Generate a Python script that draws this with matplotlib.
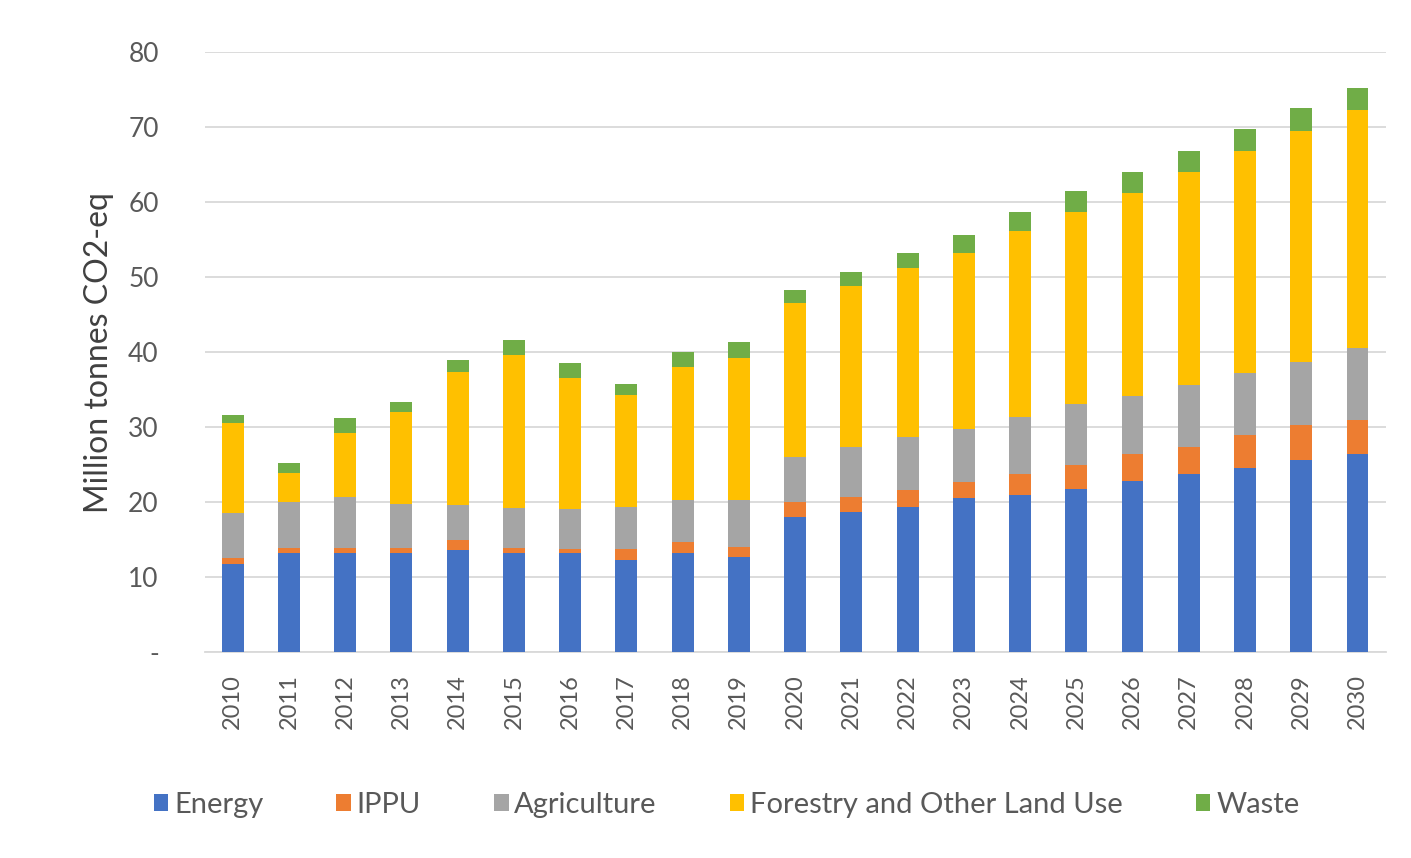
import numpy as np
import matplotlib.pyplot as plt

plt.rcParams['font.family'] = ['Lato', 'DejaVu Sans']

years = [str(y) for y in range(2010, 2031)]

energy = [11.7, 13.2, 13.2, 13.2, 13.6, 13.2, 13.2, 12.3, 13.2, 12.7,
          18.0, 18.7, 19.4, 20.5, 21.0, 21.8, 22.8, 23.8, 24.6, 25.6, 26.4]
ippu = [0.8, 0.7, 0.7, 0.7, 1.3, 0.7, 0.6, 1.5, 1.5, 1.3,
        2.0, 2.0, 2.2, 2.2, 2.8, 3.1, 3.6, 3.6, 4.4, 4.7, 4.6]
agriculture = [6.0, 6.1, 6.8, 5.9, 4.7, 5.3, 5.3, 5.6, 5.6, 6.3,
               6.0, 6.7, 7.1, 7.1, 7.5, 8.2, 7.7, 8.2, 8.2, 8.4, 9.5]
folu = [12.0, 3.9, 8.5, 12.2, 17.8, 20.4, 17.4, 14.9, 17.7, 18.9,
        20.5, 21.4, 22.5, 23.5, 24.9, 25.6, 27.2, 28.5, 29.7, 30.8, 31.8]
waste = [1.1, 1.3, 2.0, 1.4, 1.5, 2.0, 2.0, 1.5, 2.0, 2.1,
         1.8, 1.9, 2.0, 2.3, 2.5, 2.8, 2.8, 2.8, 2.9, 3.1, 3.0]

series = [
    ("Energy", energy, "#4472C4"),
    ("IPPU", ippu, "#ED7D31"),
    ("Agriculture", agriculture, "#A5A5A5"),
    ("Forestry and Other Land Use", folu, "#FFC000"),
    ("Waste", waste, "#70AD47"),
]

fig = plt.figure(figsize=(14.11, 8.58), dpi=100)
ax = fig.add_axes([0.145, 0.240, 0.837, 0.699])

x = np.arange(len(years))
bottom = np.zeros(len(years))
for name, vals, color in series:
    ax.bar(x, vals, width=0.39, bottom=bottom, color=color, label=name, zorder=3)
    bottom += np.array(vals)

ax.set_xlim(-0.5, len(years) - 0.5)
ax.set_ylim(0, 80)
ax.set_yticks(range(0, 81, 10))
ax.set_yticklabels(["-"] + [str(v) for v in range(10, 81, 10)])
ax.yaxis.grid(True, color="#d9d9d9", linewidth=1.3, zorder=0)
ax.set_xticks(x)
ax.set_xticklabels(years, rotation=90)

for s in ["top", "right", "left"]:
    ax.spines[s].set_visible(False)
ax.spines["bottom"].set_color("#d9d9d9")
ax.spines["bottom"].set_linewidth(1.3)
ax.tick_params(axis="both", length=0, colors="#595959")
ax.tick_params(axis="y", pad=33, labelsize=19)
ax.tick_params(axis="x", pad=16, labelsize=17)

ax.set_ylabel("Million tonnes CO2-eq", fontsize=23, color="#404040", labelpad=10)

fig.legend(loc="center", bbox_to_anchor=(0.515, 0.062), ncol=5, frameon=False,
           fontsize=21, handlelength=0.5, handleheight=0.5, handletextpad=0.2,
           columnspacing=2.5, labelcolor="#595959")

fig.savefig("out.png", dpi=100)
